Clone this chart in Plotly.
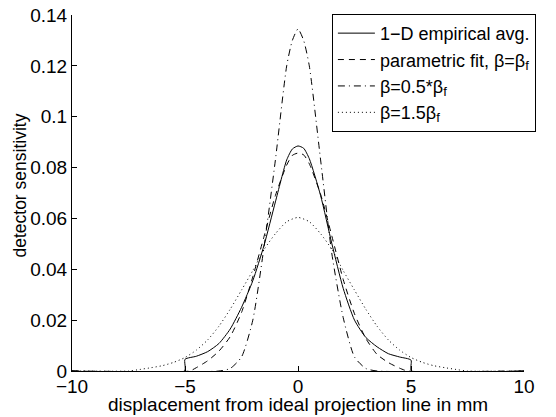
import plotly.graph_objects as go

# 1-D empirical average
x_emp = [-10, -5.02, -5.0, -4.5, -4.0, -3.5, -3.0, -2.5, -2.0, -1.5, -1.0, -0.5, -0.25, 0,
         0.25, 0.5, 1.0, 1.5, 2.0, 2.5, 3.0, 3.5, 4.0, 4.5, 5.0, 5.02, 10]
y_emp = [0, 0, 0.0046, 0.0058, 0.0076, 0.0108, 0.0165, 0.0250, 0.0355, 0.0495, 0.0665, 0.0830, 0.0873, 0.0885,
         0.0876, 0.0835, 0.0690, 0.0500, 0.0325, 0.0200, 0.0132, 0.0095, 0.0068, 0.0055, 0.0043, 0, 0]

# parametric fit, beta = beta_f
x_fit = [-10, -4.8, -4.5, -4.0, -3.5, -3.0, -2.5, -2.0, -1.5, -1.0, -0.5, -0.25, 0,
         0.25, 0.5, 1.0, 1.5, 2.0, 2.5, 3.0, 3.5, 4.0, 4.5, 4.85, 10]
y_fit = [0, 0, 0.0013, 0.0040, 0.0078, 0.0135, 0.0230, 0.0370, 0.0530, 0.0690, 0.0810, 0.0848, 0.0857,
         0.0850, 0.0815, 0.0695, 0.0530, 0.0360, 0.0225, 0.0128, 0.0065, 0.0033, 0.0011, 0, 0]

# beta = 0.5 * beta_f
x_half = [-10, -3.5, -3.0, -2.5, -2.0, -1.5, -1.0, -0.5, -0.25, 0, 0.25, 0.5, 1.0, 1.5, 2.0, 2.5, 3.0, 3.5, 10]
y_half = [0, 0, 0.0010, 0.0055, 0.0200, 0.0490, 0.0830, 0.1200, 0.1300, 0.1345, 0.1300, 0.1200, 0.0830,
          0.0460, 0.0210, 0.0055, 0.0010, 0, 0]

# beta = 1.5 * beta_f
x_wide = [-10, -7.5, -7.0, -6.5, -6.0, -5.5, -5.0, -4.5, -4.0, -3.5, -3.0, -2.5, -2.0, -1.5, -1.0, -0.5, 0,
          0.5, 1.0, 1.5, 2.0, 2.5, 3.0, 3.5, 4.0, 4.5, 5.0, 5.5, 6.0, 6.5, 7.0, 7.5, 10]
y_wide = [0, 0, 0.0006, 0.0013, 0.0021, 0.0034, 0.0053, 0.0082, 0.0122, 0.0176, 0.0243, 0.0318, 0.0395, 0.0478,
          0.0540, 0.0587, 0.0604, 0.0587, 0.0540, 0.0478, 0.0395, 0.0318, 0.0243, 0.0176, 0.0122, 0.0082,
          0.0053, 0.0034, 0.0021, 0.0013, 0.0006, 0, 0]

x_ticks = [-10, -5, 0, 5, 10]
x_tick_labels = ["\u221210", "\u22125", "0", "5", "10"]
y_ticks = [0, 0.02, 0.04, 0.06, 0.08, 0.1, 0.12, 0.14]
y_tick_labels = ["0", "0.02", "0.04", "0.06", "0.08", "0.1", "0.12", "0.14"]
x_title = "displacement from ideal projection line in mm"
y_title = "detector sensitivity"

FONT = "Liberation Sans, Arial, Helvetica, sans-serif"
SUB_F = '<span style="font-size:13px;baseline-shift:-3px">f</span>'

fig = go.Figure()
series = [
    (x_emp, y_emp, "1\u2212D empirical avg.", "solid"),
    (x_fit, y_fit, "parametric fit, \u03b2=\u03b2" + SUB_F, "6px,5px"),
    (x_half, y_half, "\u03b2=0.5*\u03b2" + SUB_F, "7px,4px,1px,4px"),
    (x_wide, y_wide, "\u03b2=1.5\u03b2" + SUB_F, "1px,3px"),
]
for xs, ys, name, dash in series:
    fig.add_trace(go.Scatter(
        x=xs, y=ys, name=name, mode="lines",
        line=dict(color="black", width=1, dash=dash, shape="spline", smoothing=0.6),
    ))

# axis titles placed as text annotations for exact positioning
fig.add_annotation(text=x_title, xref="paper", yref="paper", x=0.5, y=-0.0955,
                   xanchor="center", yanchor="middle", showarrow=False,
                   font=dict(family=FONT, size=19, color="black"))
fig.add_annotation(text=y_title, xref="paper", yref="paper", x=-0.115, y=0.521,
                   xanchor="center", yanchor="middle", showarrow=False, textangle=-90,
                   font=dict(family=FONT, size=17.5, color="black"))

# the page body adds an 8px offset, so the figure is 8px smaller than the window
fig.update_layout(
    width=548, height=409,
    margin=dict(l=64, r=32, t=7, b=46, autoexpand=False),
    paper_bgcolor="white", plot_bgcolor="white",
    font=dict(family=FONT, size=18, color="black"),
    showlegend=True,
    legend=dict(
        x=0.575, y=1.003, xanchor="left", yanchor="top",
        bordercolor="black", borderwidth=1, bgcolor="white",
        font=dict(family=FONT, size=18, color="black"),
        itemwidth=37, tracegroupgap=0,
    ),
    xaxis=dict(
        range=[-10, 10], tickvals=x_ticks, ticktext=x_tick_labels, automargin=False,
        showgrid=False, zeroline=False, showline=True, linecolor="black", linewidth=1,
        ticks="inside", ticklen=5, tickcolor="black", mirror=False,
        tickfont=dict(family=FONT, size=19), ticklabelstandoff=-2, ticklabeloverflow="allow",
    ),
    yaxis=dict(
        range=[0, 0.14], tickvals=y_ticks, ticktext=y_tick_labels, automargin=False,
        showgrid=False, zeroline=False, showline=True, linecolor="black", linewidth=1,
        ticks="inside", ticklen=5, tickcolor="black", mirror=False,
        tickfont=dict(family=FONT, size=19), ticklabeloverflow="allow",
    ),
)

fig.write_html("out.html")
